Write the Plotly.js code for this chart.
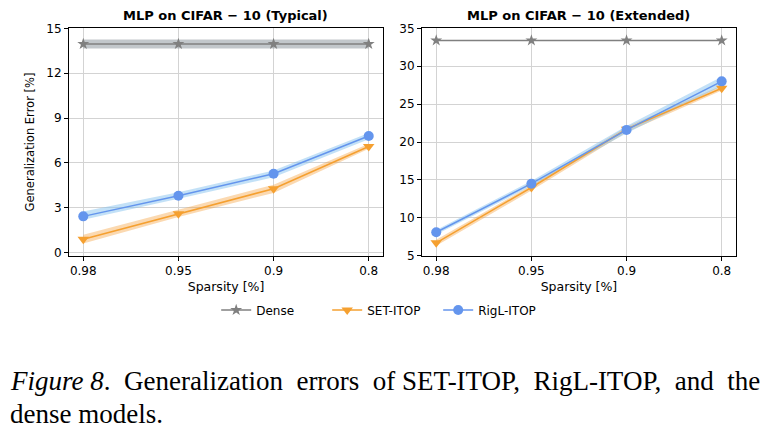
<!DOCTYPE html>
<html>
<head>
<meta charset="utf-8">
<script src="https://cdn.plot.ly/plotly-3.0.1.min.js"></script>
<style>
html,body{margin:0;padding:0;background:#fff;}
#chart{width:770px;height:448px;}
</style>
</head>
<body>
<div id="chart"></div>
<script>
// ---- data ----
const sparsity = ['0.98', '0.95', '0.9', '0.8'];

// Typical
const denseTyp = [13.95, 13.95, 13.95, 13.95];
const denseTypUp = [14.25, 14.25, 14.25, 14.25];
const denseTypLo = [13.65, 13.65, 13.65, 13.65];
const setTyp = [0.9, 2.6, 4.28, 7.1];
const setTypUp = [1.2, 2.85, 4.55, 7.28];
const setTypLo = [0.62, 2.38, 4.0, 6.95];
const rigTyp = [2.43, 3.81, 5.28, 7.8];
const rigTypUp = [2.75, 4.05, 5.5, 8.0];
const rigTypLo = [2.2, 3.6, 5.05, 7.58];

// Extended
const denseExt = [33.4, 33.4, 33.4, 33.4];
const setExt = [6.7, 14.0, 21.7, 27.1];
const setExtUp = [7.1, 14.3, 22.0, 27.45];
const setExtLo = [6.3, 13.6, 21.3, 26.8];
const rigExt = [8.1, 14.5, 21.6, 28.0];
const rigExtUp = [8.4, 14.85, 22.1, 28.6];
const rigExtLo = [7.8, 14.2, 21.15, 27.4];

const titles = ['MLP on CIFAR \u2212 10 (Typical)', 'MLP on CIFAR \u2212 10 (Extended)'];
const names = ['Dense', 'SET-ITOP', 'RigL-ITOP'];
const yTicksTyp = [0, 3, 6, 9, 12, 15];
const yTicksExt = [5, 10, 15, 20, 25, 30, 35];

// ---- styles ----
const cGray = '#808080', cOrange = '#f5a030', cBlue = '#6495ed';
const fGray = 'rgba(120,130,140,0.45)', fOrange = 'rgba(245,160,60,0.4)', fBlue = 'rgba(135,195,240,0.5)';

function band(up, lo, fill, xa, ya) {
  return {
    x: sparsity.concat(sparsity.slice().reverse()),
    y: up.concat(lo.slice().reverse()),
    xaxis: xa, yaxis: ya,
    type: 'scatter', mode: 'lines', fill: 'toself',
    fillcolor: fill, line: {width: 0}, hoverinfo: 'skip', showlegend: false
  };
}
function line(y, name, color, sym, size, xa, ya, show) {
  return {
    x: sparsity, y: y, xaxis: xa, yaxis: ya, name: name,
    type: 'scatter', mode: 'lines+markers',
    line: {color: color, width: 1.5},
    marker: {color: color, symbol: sym, size: size},
    showlegend: show, legendgroup: name
  };
}

const data = [
  band(denseTypUp, denseTypLo, fGray, 'x', 'y'),
  band(setTypUp, setTypLo, fOrange, 'x', 'y'),
  band(rigTypUp, rigTypLo, fBlue, 'x', 'y'),
  line(denseTyp, names[0], cGray, 'star', 9, 'x', 'y', true),
  line(setTyp, names[1], cOrange, 'triangle-down', 10, 'x', 'y', true),
  line(rigTyp, names[2], cBlue, 'circle', 10, 'x', 'y', true),
  band(setExtUp, setExtLo, fOrange, 'x2', 'y2'),
  band(rigExtUp, rigExtLo, fBlue, 'x2', 'y2'),
  line(denseExt, names[0], cGray, 'star', 9, 'x2', 'y2', false),
  line(setExt, names[1], cOrange, 'triangle-down', 10, 'x2', 'y2', false),
  line(rigExt, names[2], cBlue, 'circle', 10, 'x2', 'y2', false)
];

const tickFont = {family: 'DejaVu Sans', size: 12, color: '#000'};
function xaxis(dom, anchor) {
  return {
    domain: dom, anchor: anchor, type: 'category', range: [-0.15, 3.15],
    showline: true, linecolor: '#000', linewidth: 1, mirror: true,
    ticks: 'outside', ticklen: 4, tickcolor: '#000',
    showgrid: true, gridcolor: '#d3d3d3', gridwidth: 1,
    tickfont: tickFont, zeroline: false,
    title: {text: 'Sparsity [%]', font: {family: 'DejaVu Sans', size: 12.5, color: '#000'}, standoff: 5}
  };
}
function yaxis(range, ticks, anchor, ttl) {
  const a = {
    domain: [0.4292, 0.9368], anchor: anchor, range: range,
    tickvals: ticks, ticktext: ticks.map(String),
    showline: true, linecolor: '#000', linewidth: 1, mirror: true,
    ticks: 'outside', ticklen: 4, tickcolor: '#000',
    showgrid: true, gridcolor: '#d3d3d3', gridwidth: 1,
    tickfont: tickFont, zeroline: false
  };
  if (ttl) a.title = {text: ttl, font: {family: 'DejaVu Sans', size: 11.5, color: '#000'}, standoff: 9};
  return a;
}

const capFont = {family: 'Liberation Serif', size: 27, color: '#000'};
const layout = {
  width: 770, height: 448,
  margin: {l: 0, r: 0, t: 0, b: 0},
  paper_bgcolor: '#fff', plot_bgcolor: '#fff',
  showlegend: true,
  legend: {
    orientation: 'h', x: 0.497, xanchor: 'center', y: 0.308, yanchor: 'middle',
    font: {family: 'DejaVu Sans', size: 12, color: '#000'},
    entrywidth: 66, entrywidthmode: 'pixels', tracegroupgap: 0
  },
  xaxis: xaxis([0.0896, 0.4974], 'y'),
  yaxis: yaxis([-0.2, 15], yTicksTyp, 'x', 'Generalization Error [%]'),
  xaxis2: xaxis([0.548, 0.9558], 'y2'),
  yaxis2: yaxis([5, 35], yTicksExt, 'x2', null),
  annotations: [
    {text: '<b>' + titles[0] + '</b>', xref: 'paper', yref: 'paper', x: 0.2935, y: 1 - 15/448,
     xanchor: 'center', yanchor: 'middle', showarrow: false, font: {family: 'DejaVu Sans', size: 13, color: '#000'}},
    {text: '<b>' + titles[1] + '</b>', xref: 'paper', yref: 'paper', x: 0.7519, y: 1 - 15/448,
     xanchor: 'center', yanchor: 'middle', showarrow: false, font: {family: 'DejaVu Sans', size: 13, color: '#000'}},
    {text: '<i>Figure 8</i>.&nbsp; Generalization&nbsp; errors&nbsp; of SET-ITOP,&nbsp; RigL-ITOP,&nbsp; and&nbsp; the', xref: 'paper', yref: 'paper',
     x: 8/770, y: 1 - 381/448, xanchor: 'left', yanchor: 'middle', showarrow: false,
     font: capFont},
    {text: 'dense models.', xref: 'paper', yref: 'paper',
     x: 8/770, y: 1 - 414/448, xanchor: 'left', yanchor: 'middle', showarrow: false,
     font: capFont}
  ]
};

Plotly.newPlot('chart', data, layout, {staticPlot: true, displayModeBar: false});
</script>
</body>
</html>
